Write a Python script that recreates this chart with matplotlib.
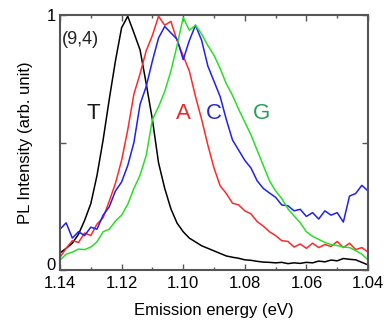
import numpy as np
import matplotlib.pyplot as plt
import matplotlib.transforms as mtransforms
from matplotlib.ticker import MultipleLocator, FixedLocator, FormatStrFormatter

plt.rcParams['font.family'] = ['Liberation Sans', 'DejaVu Sans']

# emission energy grid (eV), shared by all four spectra
energy = [1.140, 1.138, 1.136, 1.134, 1.132, 1.130, 1.128, 1.126, 1.124, 1.122,
          1.120, 1.118, 1.116, 1.114, 1.112, 1.110, 1.108, 1.106, 1.104, 1.102,
          1.100, 1.098, 1.096, 1.094, 1.092, 1.090, 1.088, 1.086, 1.084, 1.082,
          1.080, 1.078, 1.076, 1.074, 1.072, 1.070, 1.068, 1.066, 1.064, 1.062,
          1.060, 1.058, 1.056, 1.054, 1.052, 1.050, 1.048, 1.046, 1.044, 1.042,
          1.040]

# normalised PL intensity
pl_T = [0.067, 0.085, 0.105, 0.140, 0.195, 0.260, 0.370, 0.510, 0.670, 0.820,
        0.950, 0.995, 0.930, 0.863, 0.730, 0.590, 0.420, 0.320, 0.240, 0.184,
        0.150, 0.125, 0.110, 0.095, 0.085, 0.075, 0.065, 0.055, 0.050, 0.046,
        0.040, 0.038, 0.034, 0.031, 0.030, 0.028, 0.030, 0.025, 0.028, 0.026,
        0.030, 0.028, 0.035, 0.032, 0.039, 0.036, 0.045, 0.042, 0.040, 0.030,
        0.020]
pl_A = [0.050, 0.085, 0.115, 0.108, 0.145, 0.135, 0.180, 0.205, 0.270, 0.340,
        0.430, 0.550, 0.690, 0.770, 0.860, 0.920, 0.995, 0.960, 0.975, 0.900,
        0.840, 0.780, 0.680, 0.590, 0.490, 0.400, 0.330, 0.300, 0.262, 0.255,
        0.232, 0.220, 0.190, 0.172, 0.150, 0.135, 0.115, 0.112, 0.090, 0.102,
        0.085, 0.105, 0.088, 0.100, 0.092, 0.112, 0.088, 0.105, 0.080, 0.088,
        0.070]
pl_C = [0.160, 0.185, 0.125, 0.150, 0.135, 0.168, 0.160, 0.215, 0.248, 0.310,
        0.345, 0.410, 0.500, 0.650, 0.720, 0.820, 0.910, 0.955, 0.930, 0.905,
        0.825, 0.900, 0.960, 0.900, 0.800, 0.740, 0.680, 0.590, 0.510, 0.470,
        0.430, 0.400, 0.350, 0.320, 0.302, 0.285, 0.255, 0.252, 0.232, 0.238,
        0.210, 0.225, 0.200, 0.232, 0.215, 0.225, 0.188, 0.290, 0.300, 0.332,
        0.310]
pl_G = [0.039, 0.062, 0.070, 0.082, 0.080, 0.090, 0.110, 0.150, 0.160, 0.192,
        0.215, 0.258, 0.320, 0.372, 0.450, 0.590, 0.640, 0.700, 0.780, 0.880,
        0.990, 0.940, 0.960, 0.925, 0.880, 0.842, 0.790, 0.730, 0.685, 0.630,
        0.580, 0.530, 0.470, 0.410, 0.350, 0.310, 0.280, 0.240, 0.212, 0.185,
        0.150, 0.132, 0.120, 0.108, 0.100, 0.096, 0.090, 0.088, 0.076, 0.062,
        0.040]

fig = plt.figure(figsize=(3.87, 3.27), dpi=100)
ax = fig.add_axes([60/387, 1-270/327, 308/387, 255/327])

ax.plot(energy, pl_T, color='black', lw=1.1)
ax.plot(energy, pl_A, color='#ff2a2a', lw=1.1)
ax.plot(energy, pl_C, color='#2020f0', lw=1.1)
ax.plot(energy, pl_G, color='#28e028', lw=1.1)

ax.set_xlim(1.14, 1.04)
ax.set_ylim(0, 1)
ax.xaxis.set_major_locator(MultipleLocator(0.02))
ax.xaxis.set_minor_locator(MultipleLocator(0.01))
ax.xaxis.set_major_formatter(FormatStrFormatter('%.2f'))
ax.yaxis.set_major_locator(FixedLocator([0, 0.5, 1]))
ax.set_yticklabels(['0', '', '1'])
ax.tick_params(which='both', direction='in', top=True, right=True, color='#555555',
               labelsize=12)
ax.tick_params(axis='x', pad=4)
ax.tick_params(axis='y', pad=3)
ax.tick_params(which='major', length=4, width=1)
ax.tick_params(which='minor', length=2.5, width=1)
for s in ax.spines.values():
    s.set_color('#555555')
    s.set_linewidth(1.5)

# lift the "0" a little so it sits clear of "1.14"
zero_lbl = ax.get_yticklabels()[0]
zero_lbl.set_transform(zero_lbl.get_transform() +
                       mtransforms.ScaledTranslation(0, 4/72, fig.dpi_scale_trans))

ax.set_xlabel('Emission energy (eV)', fontsize=12, labelpad=9)
ax.set_ylabel('PL Intensity (arb. unit)', fontsize=12, labelpad=10)

ax.text(1.1335, 0.905, '(9,4)', fontsize=13, color='#222222', ha='center', va='center')
ax.text(1.1292, 0.615, 'T', fontsize=16, color='#1a1a1a', ha='center', va='center')
ax.text(1.1, 0.615, 'A', fontsize=16, color='#e62a2a', ha='center', va='center')
ax.text(1.090, 0.615, 'C', fontsize=16, color='#2a2ad0', ha='center', va='center')
ax.text(1.0745, 0.615, 'G', fontsize=16, color='#22a05a', ha='center', va='center')

fig.savefig('out.png', dpi=100)
